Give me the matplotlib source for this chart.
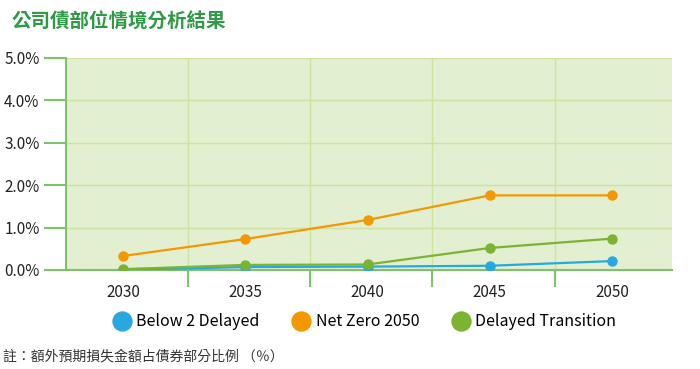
import matplotlib
matplotlib.use('Agg')
from matplotlib import pyplot as plt
from matplotlib.ticker import FuncFormatter

plt.rcParams['font.family'] = ['Noto Sans CJK TC', 'DejaVu Sans']

years = ['2030', '2035', '2040', '2045', '2050']
below2 = [0.0, 0.07, 0.08, 0.10, 0.21]
netzero = [0.33, 0.73, 1.18, 1.76, 1.76]
delayed = [0.02, 0.12, 0.13, 0.52, 0.74]
series_names = ['Below 2 Delayed', 'Net Zero 2050', 'Delayed Transition']
colors = ['#29a8e0', '#f39800', '#7cb332']

fig = plt.figure(figsize=(7, 3.69), dpi=100)
ax = fig.add_axes([66 / 700, 1 - 270 / 369, 606 / 700, 212 / 369])
ax.set_facecolor('#e2efd0')

x = list(range(len(years)))
for vals, name, c in zip([below2, netzero, delayed], series_names, colors):
    ax.plot(x, vals, color=c, lw=1.6, marker='o', ms=6.5, label=name, zorder=3)

ax.set_xlim(-0.466, 4.49)
ax.set_ylim(0, 5)
ax.set_yticks([0, 1, 2, 3, 4, 5])
ax.yaxis.set_major_formatter(FuncFormatter(lambda v, p: '%.1f%%' % v))
ax.set_xticks(x)
ax.set_xticklabels(years)
ax.set_xticks([i + 0.53 for i in range(4)], minor=True)

ax.grid(axis='y', color='#cfe3a0', lw=1)
ax.grid(axis='x', which='minor', color='#cfe3a0', lw=1)
ax.set_axisbelow(True)

for s in ['top', 'right']:
    ax.spines[s].set_visible(False)
for s in ['left', 'bottom']:
    ax.spines[s].set_color('#7dc36b')
    ax.spines[s].set_linewidth(1.5)

ax.tick_params(axis='y', length=16, width=1.5, color='#7dc36b', labelsize=11, pad=3, labelcolor='#222222')
ax.tick_params(axis='x', which='major', length=0, labelsize=11, pad=10, labelcolor='#222222')
ax.tick_params(axis='x', which='minor', length=12, width=1.5, color='#7dc36b')

fig.text(12 / 700, 1 - 22 / 369, '公司債部位情境分析結果', color='#2e9a46', fontsize=14,
         fontweight='bold', va='center', ha='left')

ax.legend(loc='center', bbox_to_anchor=(0.5, -0.245), ncol=3, frameon=False,
          handlelength=0, handletextpad=0.9, columnspacing=2.6, fontsize=11.5,
          markerscale=2.1)
for line in ax.get_legend().get_lines():
    line.set_linestyle('none')

fig.text(3 / 700, 1 - 357 / 369, '註：額外預期損失金額占債券部分比例 （％）', color='#333333', fontsize=10, va='center', ha='left')

plt.savefig('out.png', dpi=100)
